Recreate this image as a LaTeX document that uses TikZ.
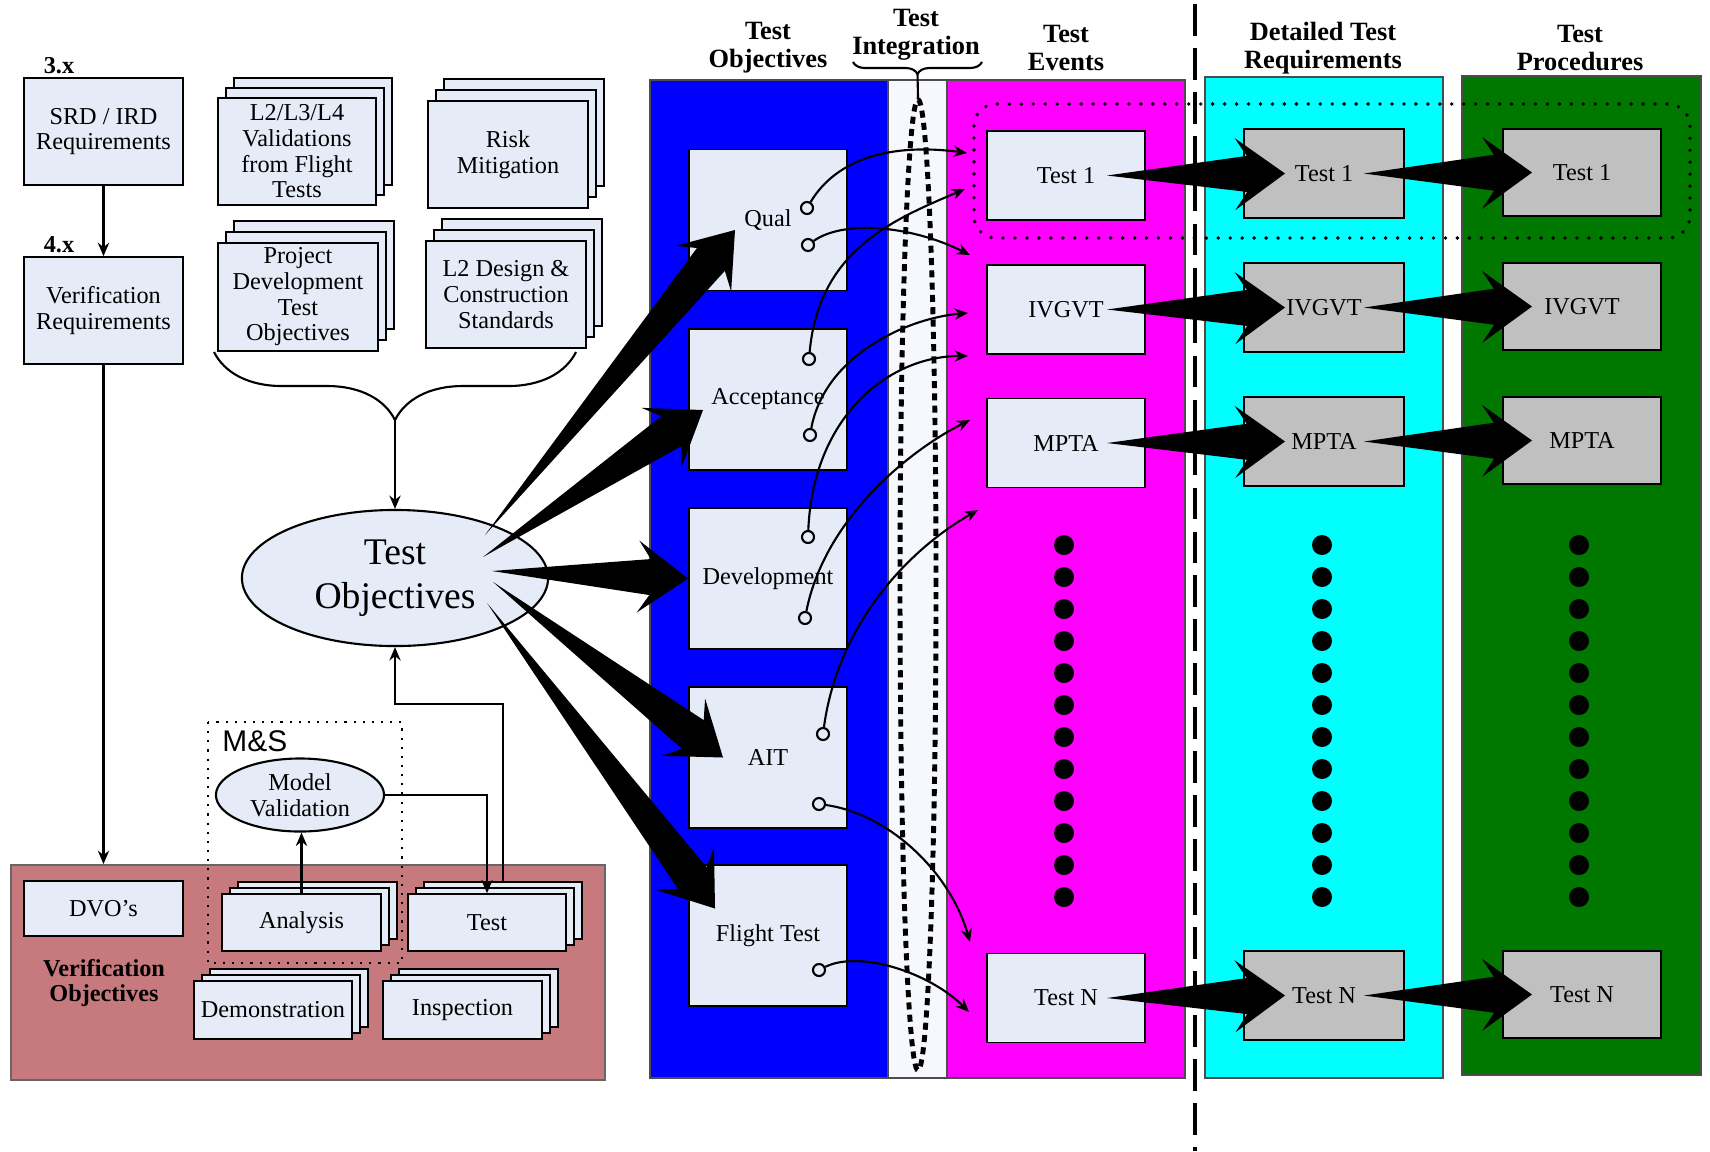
\documentclass[tikz,border=0pt]{standalone}
\usepackage{fontspec}
\setmainfont{Liberation Serif}
\setsansfont{Liberation Sans}
\usetikzlibrary{calc,positioning,shapes.geometric,decorations.pathreplacing,arrows.meta}

\definecolor{boxfill}{RGB}{229,235,247}
\definecolor{procgray}{RGB}{192,192,192}
\definecolor{objblue}{RGB}{0,0,255}
\definecolor{evmagenta}{RGB}{255,0,255}
\definecolor{reqcyan}{RGB}{0,255,255}
\definecolor{procgreen}{RGB}{0,120,0}
\definecolor{verred}{RGB}{198,122,126}
\definecolor{integfill}{RGB}{246,248,253}

\newcommand{\boxfont}{\fontsize{6.9}{7.3}\selectfont}
\newcommand{\headfont}{\fontsize{7.5}{8}\selectfont\bfseries}

\tikzset{
  tbox/.style={draw, fill=boxfill, line width=0.45pt, align=center, font=\boxfont, inner sep=0pt},
  gbox/.style={tbox, fill=procgray},
  colbox/.style={draw=black!70, line width=0.4pt},
  arr/.style={-{Stealth[length=3.8pt,width=3.2pt]}, line width=0.6pt},
  port/.style={circle, draw, fill=boxfill, line width=0.6pt, inner sep=0pt, minimum size=0.12cm},
  colhead/.style={font=\headfont, align=center},
}

% stacked box: name, centre, width, height, layer offset, text
\newcommand{\stackbox}[6]{%
  \node[tbox, minimum width=#3, minimum height=#4] (#1-b) at ($(#2)+2*(#5)$) {};
  \node[tbox, minimum width=#3, minimum height=#4] (#1-m) at ($(#2)+(#5)$) {};
  \node[tbox, minimum width=#3, minimum height=#4] (#1) at (#2) {#6};
}

% tapered block arrow: tail, tip
\newcommand{\fatarrow}[2]{%
  \coordinate (fa-t) at (#1);
  \coordinate (fa-p) at (#2);
  \coordinate (fa-s) at ($(fa-p)!0.38cm!(fa-t)$);
  \coordinate (fa-b) at ($(fa-p)!0.5cm!(fa-t)$);
  \fill (fa-t) -- ($(fa-s)!0.18cm!90:(fa-p)$) -- ($(fa-b)!0.36cm!90:(fa-p)$) -- (fa-p)
    -- ($(fa-b)!0.36cm!-90:(fa-p)$) -- ($(fa-s)!0.18cm!-90:(fa-p)$) -- cycle;
}

\begin{document}
\begin{tikzpicture}[x=0.01cm, y=-0.01cm]
\useasboundingbox (0,0) rectangle (1710,1151);

% requirements
\node[font=\boxfont\bfseries] (lbl3) at (59,66) {3.x};
\node[tbox, minimum width=1.59cm, minimum height=1.07cm] (srd) at (103.5,131.5) {SRD / IRD\\Requirements};
\node[font=\boxfont\bfseries] (lbl4) at (59,245) {4.x};
\node[tbox, minimum width=1.59cm, minimum height=1.07cm] (verreq) at (103.5,310.5) {Verification\\Requirements};
\draw[arr] (srd) -- (verreq);

% inputs to the test objectives
\stackbox{l2val}{297,151.5}{1.58cm}{1.07cm}{8,-10}{L2/L3/L4\\Validations\\from Flight\\Tests}
\stackbox{risk}{508,154.5}{1.60cm}{1.07cm}{8,-11}{Risk\\Mitigation}
\stackbox{devobj}{298,297}{1.60cm}{1.08cm}{8,-11}{Project\\Development\\Test\\Objectives}
\stackbox{design}{506,294.5}{1.60cm}{1.07cm}{8,-11}{L2 Design \&\\Construction\\Standards}
\draw[decorate, decoration={brace, amplitude=0.68cm}, line width=0.6pt] (576,352) -- (214,352);
\coordinate (bracetip) at (395,420);

\node[ellipse, draw, fill=boxfill, line width=0.6pt, minimum width=3.06cm, minimum height=1.36cm,
  inner sep=0pt, align=center, font=\fontsize{10.7}{12.4}\selectfont] (testobj) at (395,578) {Test\\Objectives};
\draw[arr] (bracetip) -- (testobj);

% verification objectives
\node[draw=black!60, fill=verred, line width=0.5pt, minimum width=5.94cm, minimum height=2.15cm] (verobj) at (308,972.5) {};
\draw[arr] (verreq) -- (verreq |- verobj.north);
\draw[dotted, line width=0.6pt] (208,722) rectangle (402,963);
\node[font=\sffamily\fontsize{8.5}{9}\selectfont, anchor=west] (mslbl) at (210,741) {M\&S};
\node[ellipse, draw, fill=boxfill, line width=0.6pt, minimum width=1.68cm, minimum height=0.73cm,
  inner sep=0pt, align=center, font=\boxfont] (modval) at (300,795) {Model\\Validation};
\node[tbox, minimum width=1.59cm, minimum height=0.55cm] (dvo) at (103.5,908.5) {DVO’s};
\node[font=\boxfont\bfseries, align=center] (verlbl) at (104,983) {Verification\\Objectives};
\stackbox{analysis}{301.5,922.5}{1.59cm}{0.57cm}{8,-6}{Analysis}
\stackbox{teststk}{487,922.5}{1.58cm}{0.57cm}{8,-6}{Test}
\stackbox{demo}{273,1010}{1.58cm}{0.58cm}{8,-6}{Demonstration}
\stackbox{inspect}{462.5,1010}{1.59cm}{0.58cm}{8,-6}{Inspection}
\draw[arr] (analysis.north) -- (analysis.north |- modval.south);
\draw[arr] (modval.east) -| (teststk.north);
\draw[arr] (teststk-b.north) |- ($(testobj.south)+(0,57)$) -- (testobj.south);

% columns
\draw[colbox, fill=integfill] (888,80) rectangle (947,1078);
\draw[colbox, fill=objblue] (650,80) rectangle (888,1078);
\draw[colbox, fill=evmagenta] (947,80) rectangle (1185,1078);
\draw[colbox, fill=reqcyan] (1205,77) rectangle (1443,1078);
\draw[colbox, fill=procgreen] (1462,76) rectangle (1701,1075);

\node[colhead] (hobj) at (768,48) {Test\\Objectives};
\node[colhead] (hint) at (916,35) {Test\\Integration};
\node[colhead] (hev) at (1066,48) {Test\\Events};
\node[colhead] (hreq) at (1323,48) {Detailed Test\\Requirements};
\node[colhead] (hproc) at (1580,48) {Test\\Procedures};

% test integration
\node[ellipse, draw, line width=1.4pt, dash pattern=on 2pt off 1.5pt, minimum width=0.36cm,
  minimum height=9.7cm, inner sep=0pt] (intell) at (918,585) {};
\draw[decorate, decoration={brace, amplitude=0.12cm}, line width=0.6pt] (982,62) -- (853,62);
\coordinate (inttip) at (917.5,74);
\draw[line width=0.6pt] (inttip) -- (intell.north);

% objective, event, requirement and procedure boxes
\foreach \nm/\y/\txt in {qual/220/Qual, accept/399.5/Acceptance, develop/578.5/Development,
    ait/757.5/AIT, flighttest/935.5/Flight Test}
  \node[tbox, minimum width=1.58cm, minimum height=1.41cm] (\nm) at (768,\y) {\txt};
\foreach \nm/\y/\txt in {ev1/175.5/Test 1, ev2/309.5/IVGVT, ev3/443/MPTA, evn/998/Test N}
  \node[tbox, minimum width=1.58cm, minimum height=0.89cm] (\nm) at (1066,\y) {\txt};
\foreach \nm/\y/\txt in {rq1/173.5/Test 1, rq2/307.5/IVGVT, rq3/441.5/MPTA, rqn/995.5/Test N}
  \node[gbox, minimum width=1.60cm, minimum height=0.89cm] (\nm) at (1324,\y) {\txt};
\foreach \nm/\y/\txt in {pr1/172.5/Test 1, pr2/306.5/IVGVT, pr3/440.5/MPTA, prn/994.5/Test N}
  \node[gbox, minimum width=1.58cm, minimum height=0.87cm] (\nm) at (1582,\y) {\txt};

\foreach \x in {1064,1322,1579}
  \foreach \k in {0,...,11}
    \fill (\x,{545+32*\k}) circle (0.1cm);

\draw[line width=1.1pt, dash pattern=on 0pt off 3.4pt, line cap=round, rounded corners=0.22cm]
  (974,104) rectangle (1690,238);
\draw[line width=1.2pt, dash pattern=on 9pt off 3.5pt] (1195,4) -- (1195,1151);

% links from objectives to events
\node[port] (pq1) at ($(qual)+(39,-12)$) {};
\node[port] (pq2) at ($(qual)+(40,25)$) {};
\node[port] (pa1) at ($(accept)+(41,-40.5)$) {};
\node[port] (pa2) at ($(accept)+(42,35.5)$) {};
\node[port] (pd1) at ($(develop)+(40,-41.5)$) {};
\node[port] (pd2) at ($(develop)+(37,39.5)$) {};
\node[port] (pt1) at ($(ait)+(55,-23.5)$) {};
\node[port] (pt2) at ($(ait)+(51,46.5)$) {};
\node[port] (pf1) at ($(flighttest)+(51,34.5)$) {};
\coordinate (eq1) at (967,153);
\coordinate (eq2) at (970,255);
\coordinate (ea1) at (965,189);
\coordinate (ea2) at (968,313);
\coordinate (ed1) at (968,356);
\coordinate (ed2) at (970,420);
\coordinate (et1) at (978,510);
\coordinate (et2) at (970,942);
\coordinate (ef1) at (969,1012);
\foreach \p/\e/\c/\d in {pq1/eq1/{30,-50}/{-75,-10}, pq2/eq2/{35,-25}/{-60,-30},
    pa1/ea1/{10,-110}/{-70,30}, pa2/ea2/{15,-80}/{-60,5}, pd1/ed1/{5,-120}/{-80,0},
    pd2/ed2/{20,-100}/{-60,30}, pt1/et1/{15,-110}/{-70,40}, pt2/et2/{70,10}/{-20,-70},
    pf1/ef1/{40,-20}/{-40,-40}}
  \draw[arr] (\p) .. controls ($(\p)+(\c)$) and ($(\e)+(\d)$) .. (\e);

% block arrows
\fatarrow{$(testobj)+(90,-43)$}{$(qual)+(-33,10)$}
\fatarrow{$(testobj)+(88,-21)$}{$(accept)+(-65,10.5)$}
\fatarrow{$(testobj)+(97,-7)$}{$(develop)+(-80,0)$}
\fatarrow{$(testobj)+(98,4)$}{$(ait)+(-45,0)$}
\fatarrow{$(testobj)+(92,25)$}{$(flighttest)+(-53,-27)$}
\foreach \a/\b/\c in {ev1/rq1/pr1, ev2/rq2/pr2, ev3/rq3/pr3, evn/rqn/prn} {
  \fatarrow{$(\a)+(41,0)$}{$(\b)+(-39,0)$}
  \fatarrow{$(\b)+(40,0)$}{$(\c)+(-50,0)$}
}
\end{tikzpicture}
\end{document}
